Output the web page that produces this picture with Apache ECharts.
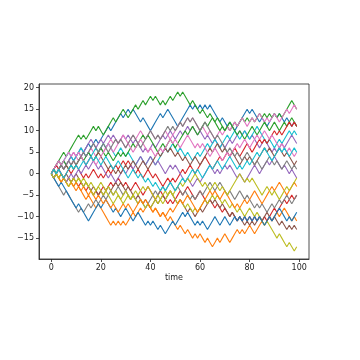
<!DOCTYPE html>
<html>
<head>
<meta charset="utf-8">
<script src="https://cdn.jsdelivr.net/npm/echarts@6/dist/echarts.min.js"></script>
<style>html,body{margin:0;padding:0;background:#fff}#c{width:360px;height:360px}</style>
</head>
<body>
<div id="c"></div>
<script>
const xTicks = [0, 20, 40, 60, 80, 100];
const yTicks = [-15, -10, -5, 0, 5, 10, 15, 20];
const xLabel = 'time';
const colors = ['#1f77b4','#ff7f0e','#2ca02c','#d62728','#9467bd','#8c564b','#e377c2','#7f7f7f','#bcbd22','#17becf'];

const walk00 = [0,1,0,1,2,1,2,3,4,3, 4,5,4,5,6,7,6,7,8,7, 8,9,10,11,10,11,12,13,14,13, 14,15,14,15,14,13,12,13,12,11, 10,11,12,13,14,13,14,15,14,13, 12,11,12,13,14,15,16,15,16,15, 16,15,16,15,16,15,14,13,12,13, 12,11,12,11,10,11,12,13,14,15, 14,15,14,13,12,13,12,11,12,13, 14,13,14,13,12,13,12,11,12,11];
const walk01 = [0,-1,0,-1,-2,-1,-2,-3,-2,-3, -4,-3,-4,-5,-6,-5,-6,-7,-8,-7, -8,-9,-10,-11,-12,-11,-12,-11,-12,-11, -12,-11,-10,-9,-10,-9,-8,-9,-8,-7, -8,-9,-8,-9,-10,-9,-10,-11,-10,-11, -12,-13,-12,-13,-14,-13,-14,-15,-14,-15, -14,-15,-16,-15,-16,-17,-16,-15,-16,-15, -14,-15,-16,-15,-14,-13,-14,-13,-14,-13, -12,-13,-14,-13,-12,-11,-12,-11,-10,-11, -10,-9,-10,-9,-8,-9,-10,-11,-10,-11];
const walk02 = [0,1,2,3,4,5,4,5,6,7, 8,9,8,9,8,9,10,11,10,11, 10,9,10,11,12,13,12,13,14,15, 14,13,14,15,16,15,16,17,16,17, 18,17,18,17,16,17,16,17,18,17, 18,19,18,19,18,17,16,17,16,15, 14,15,14,13,14,13,12,13,12,11, 10,11,10,11,12,11,12,13,12,13, 12,13,12,13,14,13,14,13,14,13, 14,13,14,13,14,15,16,17,16,15];
const walk03 = [0,1,0,-1,0,-1,-2,-1,-2,-1, -2,-3,-2,-3,-4,-3,-4,-5,-4,-5, -4,-3,-4,-3,-2,-3,-2,-1,-2,-3, -2,-3,-4,-3,-2,-3,-4,-5,-4,-3, -4,-5,-6,-5,-4,-5,-6,-7,-6,-7, -6,-5,-4,-5,-4,-3,-4,-5,-6,-5, -4,-5,-6,-7,-6,-7,-8,-7,-8,-9, -8,-9,-10,-9,-10,-11,-10,-11,-10,-11, -10,-11,-10,-11,-10,-11,-10,-11,-10,-9, -8,-9,-8,-7,-6,-7,-6,-5,-6,-5];
const walk04 = [0,1,2,1,2,3,2,3,4,5, 4,5,6,5,6,7,8,7,6,7, 8,7,8,9,8,9,8,7,8,9, 8,9,8,7,8,7,6,5,6,5, 6,7,6,7,8,9,8,9,10,9, 8,9,10,9,10,11,10,11,10,9, 10,9,8,9,8,7,8,7,6,7, 6,7,8,7,8,9,10,9,10,9, 8,9,8,7,6,7,8,7,6,5, 6,5,6,7,6,7,8,9,8,7];
const walk05 = [0,-1,0,1,0,-1,0,-1,-2,-1, 0,-1,-2,-3,-2,-3,-4,-3,-4,-5, -4,-5,-4,-3,-4,-3,-2,-3,-2,-3, -4,-3,-4,-5,-6,-5,-6,-7,-6,-7, -8,-7,-6,-7,-6,-5,-6,-5,-4,-5, -6,-7,-6,-7,-8,-9,-8,-9,-10,-9, -8,-9,-8,-7,-6,-7,-6,-7,-8,-7, -8,-9,-10,-9,-10,-11,-10,-11,-12,-11, -12,-11,-12,-11,-10,-11,-10,-9,-10,-11, -10,-11,-12,-11,-12,-13,-12,-13,-12,-13];
const walk06 = [0,1,0,1,2,1,2,3,2,3, 4,3,4,5,4,5,6,5,4,5, 6,5,6,7,8,7,8,7,8,9, 8,7,8,9,8,9,10,9,8,9, 10,9,8,9,8,9,10,9,8,9, 10,11,12,11,12,13,12,13,12,11, 10,11,10,9,10,9,8,9,10,9, 10,11,10,11,12,11,12,13,12,11, 12,13,12,13,14,13,12,13,12,13, 14,13,12,13,14,15,14,15,16,15];
const walk07 = [0,-1,-2,-3,-4,-5,-4,-5,-6,-7, -8,-9,-8,-9,-8,-7,-8,-7,-6,-7, -6,-5,-6,-5,-4,-5,-4,-3,-4,-5, -4,-5,-6,-5,-6,-7,-6,-7,-8,-7, -6,-5,-4,-5,-4,-3,-4,-3,-2,-3, -4,-3,-4,-5,-4,-5,-6,-5,-6,-5, -4,-5,-4,-3,-2,-3,-4,-3,-2,-3, -4,-5,-4,-5,-6,-5,-4,-5,-6,-5, -6,-7,-8,-7,-8,-7,-8,-9,-8,-7, -8,-7,-6,-7,-6,-5,-6,-7,-6,-5];
const walk08 = [0,-1,0,-1,-2,-1,-2,-1,-2,-3, -2,-1,-2,-1,-2,-3,-2,-3,-4,-3, -2,-3,-4,-3,-4,-5,-4,-5,-6,-5, -4,-5,-6,-5,-6,-7,-6,-7,-8,-7, -8,-7,-6,-5,-6,-5,-4,-5,-4,-5, -6,-7,-6,-7,-8,-7,-8,-9,-8,-9, -8,-7,-6,-7,-6,-5,-6,-5,-6,-7, -6,-7,-8,-7,-8,-9,-8,-9,-10,-9, -8,-9,-10,-9,-10,-11,-12,-11,-12,-13, -14,-15,-14,-15,-16,-17,-16,-17,-18,-17];
const walk09 = [0,1,2,3,2,3,4,5,4,3, 4,5,6,5,4,5,4,5,6,5, 6,7,6,7,6,5,4,5,6,5, 4,5,4,3,2,3,4,3,2,3, 4,3,2,3,4,5,6,5,6,7, 6,5,6,5,4,5,4,3,4,5, 4,5,6,7,6,7,8,7,6,7, 8,9,8,9,10,9,8,9,10,9, 8,9,10,11,10,9,8,7,8,7, 6,7,8,7,8,9,10,9,10,9];
const walk10 = [0,-1,-2,-3,-2,-3,-4,-5,-6,-7, -8,-7,-8,-9,-10,-11,-10,-9,-8,-7, -8,-7,-6,-7,-8,-9,-8,-9,-10,-9, -8,-9,-10,-11,-10,-9,-10,-11,-12,-11, -12,-11,-12,-13,-12,-13,-14,-13,-12,-11, -12,-11,-10,-9,-10,-9,-10,-11,-12,-11, -12,-11,-12,-13,-12,-11,-10,-11,-12,-11, -10,-11,-12,-11,-10,-11,-10,-11,-10,-11, -10,-11,-10,-11,-10,-11,-12,-11,-10,-11, -10,-9,-8,-9,-10,-11,-10,-11,-10,-9];
const walk11 = [0,1,0,-1,-2,-1,-2,-3,-2,-3, -2,-3,-4,-3,-4,-5,-4,-5,-6,-5, -6,-7,-6,-7,-8,-7,-8,-9,-8,-7, -8,-7,-8,-9,-8,-7,-6,-7,-6,-7, -8,-9,-8,-9,-10,-9,-10,-9,-8,-9, -8,-7,-6,-7,-6,-5,-6,-7,-8,-9, -8,-7,-6,-5,-4,-5,-4,-5,-6,-5, -4,-5,-6,-7,-8,-7,-8,-7,-6,-7, -6,-5,-4,-5,-6,-7,-6,-5,-4,-3, -4,-3,-2,-3,-4,-5,-4,-3,-2,-3];
const walk12 = [0,1,0,1,2,3,2,1,2,1, 2,3,4,3,4,5,4,3,4,5, 6,5,4,5,4,3,4,5,4,5, 4,5,6,7,6,7,8,9,8,9, 8,7,6,5,6,7,6,7,8,7, 6,7,8,9,10,9,10,11,10,9, 10,11,12,11,12,13,12,11,10,11, 10,11,12,11,10,9,10,9,8,9, 10,11,10,9,10,11,12,11,10,11, 12,11,10,11,12,11,12,13,12,11];
const walk13 = [0,1,2,1,0,-1,0,1,0,1, 2,1,0,-1,0,-1,0,1,0,-1, 0,-1,0,1,0,1,2,1,2,3, 2,3,2,1,0,1,0,-1,0,1, 0,-1,0,-1,-2,-3,-2,-1,-2,-1, -2,-1,0,1,0,1,2,1,0,1, 2,3,4,3,2,1,2,3,4,3, 4,5,4,5,6,5,4,5,6,7, 6,5,6,7,8,7,8,7,8,9, 10,9,10,9,10,11,12,11,12,11];
const walk14 = [0,-1,0,1,0,-1,-2,-1,0,-1, 0,1,0,1,2,1,2,3,2,1, 2,1,0,-1,0,-1,-2,-1,0,1, 0,1,2,1,2,3,4,3,2,3, 4,3,2,3,2,1,0,1,2,1, 2,1,0,-1,-2,-1,-2,-3,-2,-1, -2,-1,0,1,2,1,0,1,0,1, 2,1,2,1,0,-1,0,-1,-2,-1, 0,1,2,1,0,1,2,3,2,3, 4,3,2,1,2,1,0,1,0,-1];
const walk15 = [0,1,2,3,2,1,2,1,2,3, 2,3,4,3,2,3,4,3,4,5, 4,3,2,1,2,1,0,1,0,1, 2,1,2,3,2,1,2,3,2,1, 2,3,4,5,4,5,6,5,6,5, 4,5,4,3,4,3,2,3,4,3, 2,3,4,5,6,5,6,7,6,5, 6,5,4,5,4,3,2,3,4,3, 4,3,2,3,4,5,6,5,6,5, 4,5,6,5,4,5,4,3,2,3];
const walk16 = [0,1,2,3,2,3,4,5,4,5, 4,5,4,3,2,3,4,3,2,3, 4,5,6,7,6,5,6,7,8,7, 6,7,6,5,6,7,8,7,6,5, 6,5,4,5,6,5,6,7,8,7, 8,7,6,7,8,9,8,7,6,7, 6,7,6,5,4,5,6,5,4,3, 4,5,4,5,6,7,6,7,8,7, 6,7,8,9,8,9,10,9,8,9, 8,7,6,7,6,5,6,5,4,5];
const walk17 = [0,-1,0,1,2,1,2,3,2,3, 2,3,4,5,4,5,6,7,6,5, 6,7,6,5,6,7,8,7,8,7, 6,7,8,9,8,7,6,7,8,9, 10,9,8,9,8,9,10,11,10,11, 10,11,12,11,12,13,12,13,12,11, 10,11,12,11,10,9,8,9,8,7, 6,5,6,5,4,5,4,3,4,5, 4,3,2,3,2,1,2,3,4,3, 2,3,2,1,2,3,2,1,2,1];
const walk18 = [0,-1,0,-1,0,-1,-2,-3,-2,-1, -2,-1,-2,-3,-2,-3,-4,-5,-4,-3, -4,-5,-4,-5,-6,-7,-6,-5,-6,-7, -6,-5,-6,-5,-4,-5,-4,-3,-4,-3, -4,-5,-6,-7,-6,-7,-6,-5,-4,-5, -4,-3,-2,-3,-2,-1,-2,-1,0,-1, -2,-3,-2,-3,-4,-3,-2,-3,-4,-3, -4,-5,-4,-3,-2,-1,0,-1,-2,-1, -2,-1,-2,-3,-4,-5,-4,-3,-4,-5, -4,-5,-6,-5,-4,-3,-4,-3,-2,-1];
const walk19 = [0,1,0,1,0,-1,0,1,2,1, 2,1,2,3,2,3,4,3,4,3, 2,3,4,3,2,1,2,3,2,1, 0,-1,0,1,0,-1,0,-1,-2,-1, -2,-3,-2,-3,-4,-3,-4,-3,-2,-3, -4,-3,-2,-1,-2,-1,0,1,0,1, 0,-1,0,1,2,1,2,3,2,1, 2,3,4,3,2,1,2,1,2,3, 2,3,4,5,4,5,6,5,4,3, 4,5,6,5,6,5,4,5,6,5];

const walks = [walk00,walk01,walk02,walk03,walk04,walk05,walk06,walk07,walk08,walk09,
               walk10,walk11,walk12,walk13,walk14,walk15,walk16,walk17,walk18,walk19];

const chart = echarts.init(document.getElementById('c'), null, {renderer: 'canvas'});
const fmt = v => String(v).replace('-', '\u2212');
const font = 'DejaVu Sans';
const axisCol = '#222';
chart.setOption({
  animation: false,
  backgroundColor: '#fff',
  grid: {left: 39, right: 51, top: 84, bottom: 101, show: true, borderColor: axisCol, borderWidth: 0.8, backgroundColor: 'transparent'},
  xAxis: {
    type: 'value', min: -4.95, max: 103.95,
    name: xLabel, nameLocation: 'middle', nameGap: 15,
    nameTextStyle: {fontFamily: font, fontSize: 8, color: axisCol},
    axisLine: {show: true, onZero: false, lineStyle: {color: axisCol, width: 0.8}},
    splitLine: {show: false},
    axisTick: {show: true, inside: false, customValues: xTicks, length: 3, lineStyle: {color: axisCol, width: 0.8}},
    axisLabel: {customValues: xTicks, fontFamily: font, fontSize: 8, color: axisCol, margin: 5, formatter: fmt}
  },
  yAxis: {
    type: 'value', min: -19.85, max: 20.85,
    axisLine: {show: true, onZero: false, lineStyle: {color: axisCol, width: 0.8}},
    splitLine: {show: false},
    axisTick: {show: true, inside: false, customValues: yTicks, length: 3, lineStyle: {color: axisCol, width: 0.8}},
    axisLabel: {customValues: yTicks, fontFamily: font, fontSize: 8, color: axisCol, margin: 5, formatter: fmt}
  },
  series: walks.map((w, i) => ({
    type: 'line',
    data: w.map((v, t) => [t, v]),
    showSymbol: false,
    symbol: 'none',
    lineStyle: {width: 1.1, color: colors[i % 10]},
    itemStyle: {color: colors[i % 10]},
    silent: true
  }))
});
</script>
</body>
</html>
